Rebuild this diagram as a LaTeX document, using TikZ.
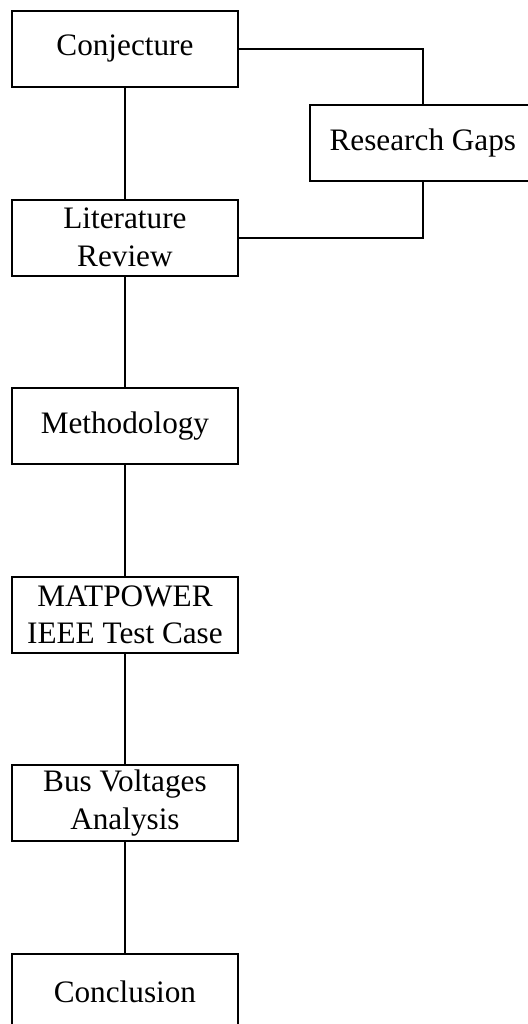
\documentclass[tikz,border=0pt]{standalone}
\usepackage{fontspec}
\setmainfont{Liberation Serif}
\usepackage{tikz}
\usetikzlibrary{positioning}

\begin{document}
\begin{tikzpicture}[main/.style = {draw, rectangle, line width=0.75pt, minimum width=86.8pt, minimum height=29.2pt, inner sep=0pt, align=center, font=\fontsize{12}{14.5}\selectfont}, node distance={72.46pt}, line width=0.75pt]
        \useasboundingbox (0,0) rectangle (202.5pt,-393.4pt);
        \node[main] (conj) at (48pt,-18.8pt) {Conjecture};
        \node[main] (lit) [below of=conj] {Literature\\Review};
        \node[main] (meth) [below of=lit] {Methodology};
        \node[main] (mat) [below of=meth] {MATPOWER\\IEEE Test Case};
        \node[main] (bus) [below of=mat] {Bus Voltages\\Analysis};
        \node[main] (concl) [below of=bus] {Conclusion};
        \node[main] (gaps) [right of=conj, xshift=42pt, yshift=-36.3pt] {Research Gaps};
        \draw (conj) -- (lit);
        \draw (lit) -- (meth);
        \draw (meth) -- (mat);
        \draw (mat) -- (bus);
        \draw (bus) -- (concl);
        \draw (conj.east) -| (gaps.north);
        \draw (gaps.south) |- (lit.east);
        \end{tikzpicture}
\end{document}
